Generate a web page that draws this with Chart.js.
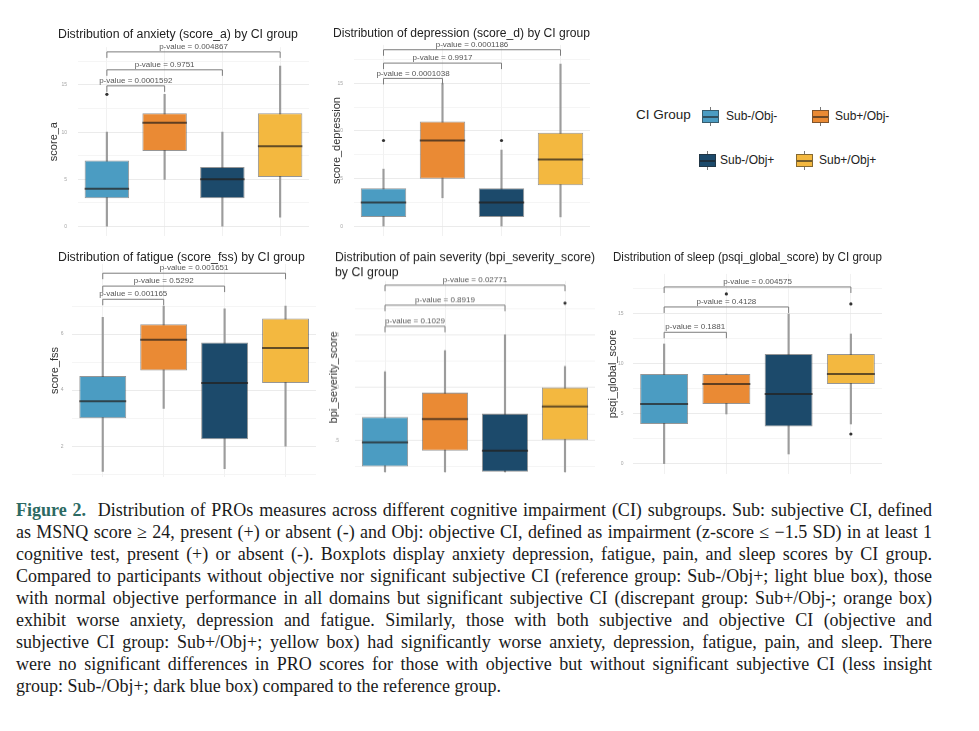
<!DOCTYPE html>
<html>
<head>
<meta charset="utf-8">
<script src="https://cdn.jsdelivr.net/npm/chart.js@4.4.1/dist/chart.umd.min.js"></script>
<style>
  body { margin: 0; width: 979px; height: 731px; background: #fff; position: relative; overflow: hidden;
         font-family: 'Liberation Sans', Arial, sans-serif; }
  .panel { position: absolute; }
  .legend-title { position: absolute; font-size: 13.5px; color: #222; }
  .legend-label { position: absolute; font-size: 12px; color: #222; }
  .legend-icon { position: absolute; width: 17px; height: 13px; box-sizing: border-box;
                 border: 1px solid rgba(40,40,40,0.55); }
  .legend-icon .med { position: absolute; left: 0; right: 0; top: 5px; height: 1.5px; background: rgba(30,30,30,0.6); }
  .legend-icon .wh { position: absolute; left: 7px; width: 1.2px; height: 3px; background: #777; }
  .caption { position: absolute; left: 16px; top: 499px; width: 916px; color: #1a1a1a;
             font-family: 'Liberation Serif', 'Times New Roman', serif; font-size: 18px; line-height: 22px; }
  .caption div { text-align: justify; text-align-last: justify; }
  .caption div.last { text-align-last: left; }
  .fig { color: #2c6a63; font-weight: bold; }
</style>
</head>
<body>
<script>
// groups and colours
const groups = ['Sub-/Obj-', 'Sub+/Obj-', 'Sub-/Obj+', 'Sub+/Obj+'];
const groupColors = ['#4b9cc2', '#ea8a34', '#1c4a6b', '#f3b840'];
const bracketPairs = [[0, 1], [0, 2], [0, 3]];

// anxiety (score_a)
const anxietyLow = [0, 5, 0, 1];
const anxietyQ1 = [3, 8, 3, 5.25];
const anxietyMedian = [4, 11, 5, 8.5];
const anxietyQ3 = [7, 12, 6.3, 12];
const anxietyHigh = [10, 14, 10, 17];
const anxietyOutliers = [[14], [], [], []];
const anxietyPValues = ['0.0001592', '0.9751', '0.004867'];
const anxietyBracketY = [14.9, 16.6, 18.5];
const anxietyTicks = [0, 5, 10, 15];
const anxietyMinorTicks = [2.5, 7.5, 12.5, 17.5];

// depression (score_d)
const depressionLow = [0, 3, 0, 1];
const depressionQ1 = [1, 5, 1, 4.3];
const depressionMedian = [2.5, 9, 2.5, 7];
const depressionQ3 = [4, 11, 4, 9.8];
const depressionHigh = [6, 15, 8, 17];
const depressionOutliers = [[9], [], [9], []];
const depressionPValues = ['0.0001038', '0.9917', '0.0001186'];
const depressionBracketY = [15.5, 17.1, 18.5];
const depressionTicks = [0, 5, 10, 15];
const depressionMinorTicks = [2.5, 7.5, 12.5, 17.5];

// fatigue (score_fss)
const fatigueLow = [1.1, 3.35, 1.2, 2.0];
const fatigueQ1 = [3.0, 4.7, 2.25, 4.25];
const fatigueMedian = [3.6, 5.8, 4.25, 5.5];
const fatigueQ3 = [4.5, 6.35, 5.7, 6.55];
const fatigueHigh = [6.6, 7.0, 6.9, 7.0];
const fatigueOutliers = [[], [], [], []];
const fatiguePValues = ['0.001165', '0.5292', '0.001651'];
const fatigueBracketY = [7.24, 7.71, 8.17];
const fatigueTicks = [2, 4, 6];
const fatigueMinorTicks = [1, 3, 5, 7];

// pain severity (bpi_severity_score)
const painLow = [1, 1, 1, 1];
const painQ1 = [1.25, 2, 1, 2.5];
const painMedian = [2.4, 3.5, 2, 4.1];
const painQ3 = [3.6, 4.75, 3.75, 5];
const painHigh = [5.75, 6.75, 7.5, 6];
const painOutliers = [[], [], [], [9]];
const painPValues = ['0.1029', '0.8919', '0.02771'];
const painBracketY = [7.9, 8.9, 9.85];
const painTicks = [2.5, 5, 7.5];
const painMinorTicks = [1.25, 3.75, 6.25, 8.75];

// sleep (psqi_global_score)
const sleepLow = [0, 5, 1, 4];
const sleepQ1 = [4, 6, 3.75, 8];
const sleepMedian = [6, 8, 7, 9];
const sleepQ3 = [9, 9, 11, 11];
const sleepHigh = [12, 9, 15, 13];
const sleepOutliers = [[], [17], [], [16, 3]];
const sleepPValues = ['0.1881', '0.4128', '0.004575'];
const sleepBracketY = [13.17, 15.7, 17.7];
const sleepTicks = [0, 5, 10, 15];
const sleepMinorTicks = [2.5, 7.5, 12.5, 17.5];

const FONT = "'Liberation Sans', Arial, sans-serif";

// draws the significance brackets with the chart's own scales
const bracketPlugin = {
  id: 'brackets',
  afterDatasetsDraw(chart, args, opts) {
    const { ctx, scales: { x, y } } = chart;
    ctx.save();
    ctx.strokeStyle = '#7c7c7c';
    ctx.lineWidth = 1;
    ctx.fillStyle = '#555';
    ctx.font = '8px ' + FONT;
    ctx.textAlign = 'center';
    ctx.textBaseline = 'middle';
    bracketPairs.forEach((pair, i) => {
      const x1 = x.getPixelForValue(pair[0]);
      const x2 = x.getPixelForValue(pair[1]);
      const yy = y.getPixelForValue(opts.levels[i]);
      ctx.beginPath();
      ctx.moveTo(x1, yy + 6);
      ctx.lineTo(x1, yy);
      ctx.lineTo(x2, yy);
      ctx.lineTo(x2, yy + 6);
      ctx.stroke();
      ctx.fillText('p-value = ' + opts.pValues[i], (x1 + x2) / 2, yy - 5);
    });
    ctx.restore();
  }
};

function makePanel(p) {
  const wrap = document.createElement('div');
  wrap.className = 'panel';
  wrap.style.left = p.left + 'px';
  wrap.style.top = p.top + 'px';
  wrap.style.width = p.width + 'px';
  wrap.style.height = p.height + 'px';
  const canvas = document.createElement('canvas');
  wrap.appendChild(canvas);
  document.body.appendChild(wrap);

  const outlierPts = [];
  p.outliers.forEach((list, i) => list.forEach(v => outlierPts.push({ x: groups[i], y: v })));
  const allTicks = p.ticks.concat(p.minor).sort((a, b) => a - b);

  new Chart(canvas, {
    type: 'bar',
    data: {
      labels: groups,
      datasets: [
        {
          label: 'whisker',
          data: p.low.map((v, i) => [v, p.high[i]]),
          backgroundColor: '#9c9c9c',
          barThickness: 1.5,
          grouped: false,
          order: 3
        },
        {
          label: 'box',
          data: p.q1.map((v, i) => [v, p.q3[i]]),
          backgroundColor: groupColors,
          borderColor: 'rgba(45,45,45,0.5)',
          borderWidth: 1,
          borderSkipped: false,
          grouped: false,
          barPercentage: 0.77,
          categoryPercentage: 1,
          order: 2
        },
        {
          type: 'line',
          label: 'median',
          data: p.median,
          showLine: false,
          pointStyle: 'line',
          pointRadius: c => c.chart.chartArea ? c.chart.chartArea.width / groups.length * 0.77 / 2 : 20,
          pointBorderWidth: 2,
          pointBorderColor: 'rgba(35,30,25,0.7)',
          order: 1
        },
        {
          type: 'line',
          label: 'outliers',
          data: outlierPts,
          showLine: false,
          pointRadius: 1.6,
          pointBorderWidth: 0,
          pointBackgroundColor: '#333',
          order: 0
        }
      ]
    },
    options: {
      responsive: true,
      maintainAspectRatio: false,
      animation: false,
      events: [],
      layout: { autoPadding: false, padding: { left: p.padLeft, right: 0, top: 0, bottom: 0 } },
      plugins: {
        legend: { display: false },
        tooltip: { enabled: false },
        title: {
          display: true,
          text: p.title,
          align: 'start',
          color: '#222',
          font: { family: FONT, size: 12.3, weight: 'normal', lineHeight: p.titleLH || 1.2 },
          padding: p.titlePad
        },
        brackets: { levels: p.bracketY, pValues: p.pValues }
      },
      scales: {
        x: {
          offset: true,
          afterFit: s => { s.height = 0; s.paddingLeft = 0; s.paddingRight = 0; },
          ticks: { display: false },
          grid: { offset: false, color: '#ededed', lineWidth: 0.8, drawTicks: false },
          border: { display: false }
        },
        y: {
          min: p.min,
          max: p.max,
          afterBuildTicks: s => { s.ticks = allTicks.map(v => ({ value: v })); },
          afterFit: s => { s.width = p.yWidth; s.paddingTop = 0; s.paddingBottom = 0; },
          ticks: {
            padding: p.tickPad,
            color: '#a5a5a5',
            font: { family: FONT, size: 5 },
            callback: v => p.ticks.includes(v) ? (p.fixed ? v.toFixed(1) : String(v)) : ''
          },
          grid: {
            drawTicks: false,
            color: c => p.ticks.includes(c.tick.value) ? '#e6e6e6' : '#f2f2f2',
            lineWidth: 0.8
          },
          border: { display: false },
          title: {
            display: true,
            text: p.yTitle,
            color: '#333',
            font: { family: FONT, size: 11 },
            padding: { top: p.yTitlePad, bottom: 0 }
          }
        }
      }
    },
    plugins: [bracketPlugin]
  });
}

makePanel({
  left: 40, top: 20, width: 269, height: 216, padLeft: 18, yWidth: 20, tickPad: 11,
  title: 'Distribution of anxiety (score_a) by CI group', titlePad: { top: 7.6, bottom: 4.8 },
  yTitle: 'score_a', yTitlePad: -10.6, min: -1, max: 19,
  low: anxietyLow, q1: anxietyQ1, median: anxietyMedian, q3: anxietyQ3, high: anxietyHigh,
  outliers: anxietyOutliers, pValues: anxietyPValues, bracketY: anxietyBracketY,
  ticks: anxietyTicks, minor: anxietyMinorTicks
});

makePanel({
  left: 320, top: 20, width: 270, height: 216, padLeft: 13, yWidth: 21, tickPad: 11,
  title: 'Distribution of depression (score_d) by CI group', titlePad: { top: 6.6, bottom: 3.6 },
  yTitle: 'score_depression', yTitlePad: -3.1, min: -1, max: 19,
  low: depressionLow, q1: depressionQ1, median: depressionMedian, q3: depressionQ3, high: depressionHigh,
  outliers: depressionOutliers, pValues: depressionPValues, bracketY: depressionBracketY,
  ticks: depressionTicks, minor: depressionMinorTicks
});

makePanel({
  left: 40, top: 240, width: 276, height: 237, padLeft: 18, yWidth: 14.3, tickPad: 8.8,
  title: 'Distribution of fatigue (score_fss) by CI group', titlePad: { top: 10, bottom: -0.8 },
  yTitle: 'score_fss', yTitlePad: -9.6, min: 0.9, max: 8.5,
  low: fatigueLow, q1: fatigueQ1, median: fatigueMedian, q3: fatigueQ3, high: fatigueHigh,
  outliers: fatigueOutliers, pValues: fatiguePValues, bracketY: fatigueBracketY,
  ticks: fatigueTicks, minor: fatigueMinorTicks
});

makePanel({
  left: 320, top: 240, width: 275, height: 232.5, padLeft: 15, yWidth: 20, tickPad: 16, fixed: true,
  title: ['Distribution of pain severity (bpi_severity_score)', 'by CI group'], titleLH: 15 / 12.3,
  titlePad: { top: 10.5, bottom: 0.25 },
  yTitle: 'bpi_severity_score', yTitlePad: -8.1, min: 0.92, max: 10.05,
  low: painLow, q1: painQ1, median: painMedian, q3: painQ3, high: painHigh,
  outliers: painOutliers, pValues: painPValues, bracketY: painBracketY,
  ticks: painTicks, minor: painMinorTicks
});

makePanel({
  left: 600, top: 240, width: 282, height: 234, padLeft: 13, yWidth: 20, tickPad: 9.4,
  title: 'Distribution of sleep (psqi_global_score) by CI group', titlePad: { top: 10.6, bottom: 8.6 },
  yTitle: 'psqi_global_score', yTitlePad: -7.1, min: -1, max: 19,
  low: sleepLow, q1: sleepQ1, median: sleepMedian, q3: sleepQ3, high: sleepHigh,
  outliers: sleepOutliers, pValues: sleepPValues, bracketY: sleepBracketY,
  ticks: sleepTicks, minor: sleepMinorTicks
});

// legend (html)
const legendTitle = document.createElement('div');
legendTitle.className = 'legend-title';
legendTitle.textContent = 'CI Group';
legendTitle.style.left = '636px';
legendTitle.style.top = '107px';
document.body.appendChild(legendTitle);

const legendSpots = [[702, 110, 726], [812, 110, 835], [699, 154, 720], [796, 154, 819]];
groups.forEach((g, i) => {
  const [ix, iy, tx] = legendSpots[i];
  const icon = document.createElement('div');
  icon.className = 'legend-icon';
  icon.style.left = ix + 'px';
  icon.style.top = iy + 'px';
  icon.style.background = groupColors[i];
  icon.innerHTML = '<div class="med"></div><div class="wh" style="top:-4px"></div><div class="wh" style="top:12px"></div>';
  document.body.appendChild(icon);
  const label = document.createElement('div');
  label.className = 'legend-label';
  label.textContent = g;
  label.style.left = tx + 'px';
  label.style.top = (iy - 1) + 'px';
  document.body.appendChild(label);
});
</script>
<div class="caption">
  <div><span class="fig">Figure 2.</span>&nbsp; Distribution of PROs measures across different cognitive impairment (CI) subgroups. Sub: subjective CI, defined</div>
  <div>as MSNQ score ≥ 24, present (+) or absent (-) and Obj: objective CI, defined as impairment (z-score ≤ −1.5 SD) in at least 1</div>
  <div>cognitive test, present (+) or absent (-). Boxplots display anxiety depression, fatigue, pain, and sleep scores by CI group.</div>
  <div>Compared to participants without objective nor significant subjective CI (reference group: Sub-/Obj+; light blue box), those</div>
  <div>with normal objective performance in all domains but significant subjective CI (discrepant group: Sub+/Obj-; orange box)</div>
  <div>exhibit worse anxiety, depression and fatigue. Similarly, those with both subjective and objective CI (objective and</div>
  <div>subjective CI group: Sub+/Obj+; yellow box) had significantly worse anxiety, depression, fatigue, pain, and sleep. There</div>
  <div>were no significant differences in PRO scores for those with objective but without significant subjective CI (less insight</div>
  <div class="last">group: Sub-/Obj+; dark blue box) compared to the reference group.</div>
</div>
</body>
</html>
